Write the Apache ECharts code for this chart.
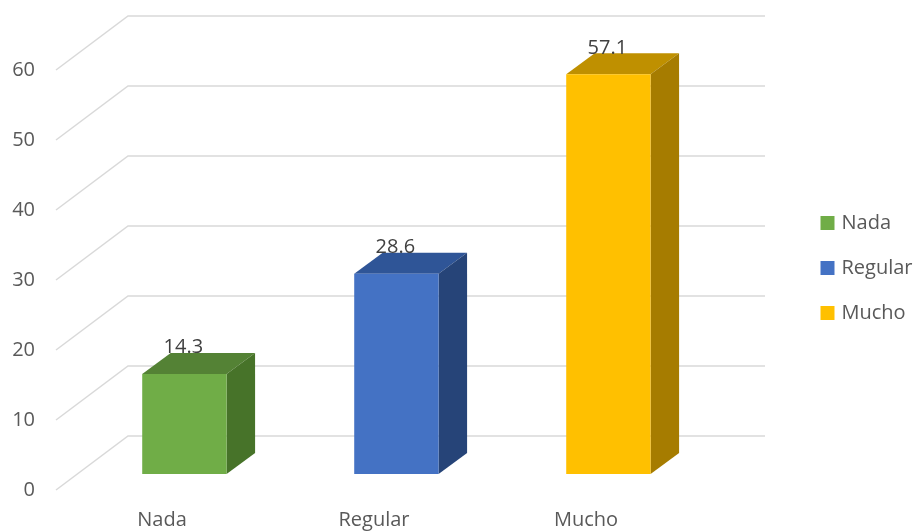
<!DOCTYPE html>
<html><head><meta charset="utf-8">
<style>html,body{margin:0;padding:0;background:#fff}#c{width:914px;height:531px}</style>
<script src="https://cdn.jsdelivr.net/npm/echarts@6/dist/echarts.min.js"></script>
</head><body><div id="c"></div>
<script>
var categories = ['Nada', 'Regular', 'Mucho'];
var values = [14.3, 28.6, 57.1];
var yTicks = [0, 10, 20, 30, 40, 50, 60];
var faceColors = ['#70AD47', '#4472C4', '#FFC000'];
var topColors = ['#548235', '#2F5597', '#BF9000'];
var sideColors = ['#477329', '#264478', '#A67C00'];

var FONT = '"Open Sans", sans-serif';
var wallDepth = [72, -54];
var barDepth = [28.5, -21];
var barShift = [22.4, -16];
var barRatio = 0.398;

var chart = echarts.init(document.getElementById('c'), null, {renderer: 'canvas'});

function wallItem(params, api) {
  var p = api.coord([0, api.value(0)]);
  var cs = params.coordSys;
  var x0 = cs.x, x1 = cs.x + 637;
  return {
    type: 'polyline',
    shape: {points: [[x0, p[1]], [x0 + wallDepth[0], p[1] + wallDepth[1]], [x1 + wallDepth[0], p[1] + wallDepth[1]]]},
    style: {stroke: '#D9D9D9', lineWidth: 1.5, fill: null}
  };
}

function barItem(i) {
  return function (params, api) {
    var top = api.coord([api.value(0), api.value(1)]);
    var base = api.coord([api.value(0), 0]);
    var w = api.size([1, 0])[0] * barRatio;
    var l = top[0] + barShift[0] - w / 2, r = l + w;
    var t = top[1] + barShift[1], b = base[1] + barShift[1];
    var dx = barDepth[0], dy = barDepth[1];
    return {
      type: 'group',
      children: [
        {type: 'polygon', shape: {points: [[l, t], [r, t], [r + dx, t + dy], [l + dx, t + dy]]}, style: {fill: topColors[i]}},
        {type: 'polygon', shape: {points: [[r, t], [r + dx, t + dy], [r + dx, b + dy], [r, b]]}, style: {fill: sideColors[i]}},
        {type: 'rect', shape: {x: l, y: t, width: w, height: b - t}, style: {fill: faceColors[i]}},
        {type: 'text', x: (l + r) / 2 - 1, y: t - 26.5, style: {
          text: String(api.value(1)), fill: '#404040', font: '20px ' + FONT, align: 'center', verticalAlign: 'middle'
        }}
      ]
    };
  };
}

var series = [{
  type: 'custom', name: 'wall', coordinateSystem: 'cartesian2d', silent: true, z: 1,
  encode: {x: 1, y: 0},
  data: yTicks.map(function (v) { return [v]; }),
  renderItem: wallItem,
  clip: false
}];
categories.forEach(function (c, i) {
  series.push({
    type: 'custom', name: c, coordinateSystem: 'cartesian2d', z: 2, clip: false,
    itemStyle: {color: faceColors[i]},
    encode: {x: 0, y: 1},
    data: [[i, values[i]]],
    renderItem: barItem(i)
  });
});

chart.setOption({
  animation: false,
  backgroundColor: '#fff',
  grid: {left: 56, top: 70, width: 636, height: 420, containLabel: false},
  legend: {
    data: categories, orient: 'vertical', left: 820.5, top: 213, icon: 'rect',
    itemWidth: 14, itemHeight: 14, itemGap: 25, selectedMode: false,
    textStyle: {color: '#595959', fontFamily: FONT, fontSize: 20, lineHeight: 20, padding: [0, 0, 0, 2]},
    padding: 0
  },
  xAxis: {
    type: 'category', data: categories,
    axisLine: {show: false}, axisTick: {show: false}, splitLine: {show: false},
    axisLabel: {color: '#595959', fontFamily: FONT, fontSize: 20, margin: 20}
  },
  yAxis: {
    type: 'value', min: 0, max: 60, interval: 10,
    axisLine: {show: false}, axisTick: {show: false}, splitLine: {show: false},
    axisLabel: {color: '#595959', fontFamily: FONT, fontSize: 20, margin: 21}
  },
  series: series
});
</script></body></html>
